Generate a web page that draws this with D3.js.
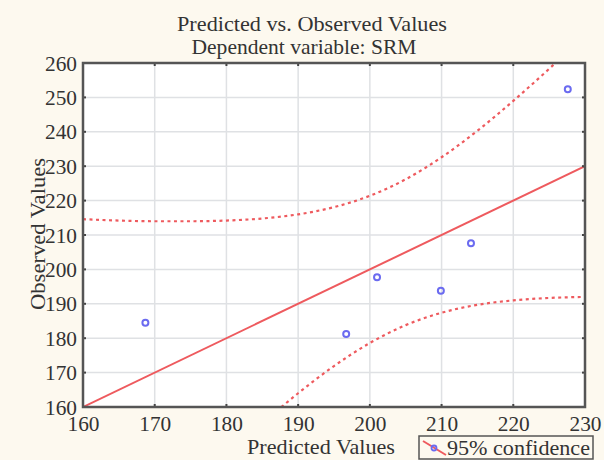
<!DOCTYPE html>
<html><head><meta charset="utf-8">
<script src="https://cdn.jsdelivr.net/npm/d3@7"></script>
<style>body{margin:0;background:#fdf9ef;} svg{display:block;}</style>
</head><body>
<svg id="c" width="604" height="460"></svg>
<script>
const predicted = [168.7, 196.7, 201.0, 209.9, 214.1, 227.6];
const observed  = [184.5, 181.2, 197.7, 193.8, 207.6, 252.4];
const fitX = [160, 230];
const fitY = [160, 230];
const bandX     = [160, 165, 170, 175, 180, 185, 190, 195, 200, 205, 210, 215, 220, 225, 230];
const bandUpper = [214.6, 214.2, 214.0, 214.0, 214.2, 214.8, 216.0, 218.1, 221.4, 226.2, 232.6, 240.3, 249.0, 258.3, 268.0];
const bandLower = [105.4, 115.8, 126.0, 136.0, 145.8, 155.2, 164.0, 171.9, 178.6, 183.8, 187.4, 189.7, 191.0, 191.7, 192.0];
const xTicks = [160, 170, 180, 190, 200, 210, 220, 230];
const yTicks = [160, 170, 180, 190, 200, 210, 220, 230, 240, 250, 260];

const svg = d3.select("#c");
const L = 83, R = 585, T = 63, B = 407;
const x = d3.scaleLinear().domain([160, 230]).range([L, R]);
const y = d3.scaleLinear().domain([160, 260]).range([B, T]);
const font = "'Liberation Serif','Times New Roman',serif";
const red = "#ee5a5e", blue = "#6b6bf0", ink = "#333";

svg.append("rect").attr("x", L).attr("y", T).attr("width", R - L).attr("height", B - T).attr("fill", "#fff");
svg.append("defs").append("clipPath").attr("id", "clip")
  .append("rect").attr("x", L).attr("y", T).attr("width", R - L).attr("height", B - T);

// grid
svg.append("g").selectAll("line").data(xTicks).join("line")
  .attr("x1", d => x(d)).attr("x2", d => x(d)).attr("y1", T).attr("y2", B)
  .attr("stroke", "#dfe1e4").attr("stroke-width", 1.5);
svg.append("g").selectAll("line").data(yTicks).join("line")
  .attr("y1", d => y(d)).attr("y2", d => y(d)).attr("x1", L).attr("x2", R)
  .attr("stroke", "#dfe1e4").attr("stroke-width", 1.5);

const plot = svg.append("g").attr("clip-path", "url(#clip)");
const ln = d3.line().x(d => x(d[0])).y(d => y(d[1])).curve(d3.curveMonotoneX);
plot.append("path").datum(fitX.map((v, i) => [v, fitY[i]]))
  .attr("d", ln).attr("fill", "none").attr("stroke", red).attr("stroke-width", 2);
plot.append("path").datum(bandX.map((v, i) => [v, bandUpper[i]]))
  .attr("d", ln).attr("fill", "none").attr("stroke", red).attr("stroke-width", 2.2).attr("stroke-dasharray", "3,3.5");
plot.append("path").datum(bandX.map((v, i) => [v, bandLower[i]]))
  .attr("d", ln).attr("fill", "none").attr("stroke", red).attr("stroke-width", 2.2).attr("stroke-dasharray", "3,3.5");

plot.append("g").selectAll("circle").data(predicted).join("circle")
  .attr("cx", d => x(d)).attr("cy", (d, i) => y(observed[i])).attr("r", 3)
  .attr("fill", "none").attr("stroke", blue).attr("stroke-width", 2);

// axes
const axB = svg.append("g").attr("transform", `translate(0,${B})`)
  .call(d3.axisBottom(x).tickValues(xTicks).tickSize(0).tickPadding(6).tickFormat(d3.format("d")));
const axL = svg.append("g").attr("transform", `translate(${L},0)`)
  .call(d3.axisLeft(y).tickValues(yTicks).tickSize(0).tickPadding(6).tickFormat(d3.format("d")));
[axB, axL].forEach(a => {
  a.select(".domain").remove();
  a.selectAll("text").attr("font-family", font).attr("font-size", 21).attr("fill", ink)
    .attr("textLength", 32).attr("lengthAdjust", "spacingAndGlyphs");
});
axB.selectAll("text").attr("dy", 18);
axL.selectAll("text").attr("dy", "0.34em");

// inner tick marks
const tk = svg.append("g").attr("stroke", "#444").attr("stroke-width", 2);
xTicks.forEach(v => {
  tk.append("line").attr("x1", x(v)).attr("x2", x(v)).attr("y1", T).attr("y2", T + 3);
  tk.append("line").attr("x1", x(v)).attr("x2", x(v)).attr("y1", B).attr("y2", B - 3);
});
yTicks.forEach(v => {
  tk.append("line").attr("y1", y(v)).attr("y2", y(v)).attr("x1", L).attr("x2", L + 3);
  tk.append("line").attr("y1", y(v)).attr("y2", y(v)).attr("x1", R).attr("x2", R - 3);
});
svg.append("rect").attr("x", L).attr("y", T).attr("width", R - L).attr("height", B - T)
  .attr("fill", "none").attr("stroke", "#555").attr("stroke-width", 2.5);

// titles
function label(txt, xx, yy, len, size, rot) {
  const t = svg.append("text").attr("text-anchor", "middle")
    .attr("font-family", font).attr("font-size", size).attr("fill", ink)
    .attr("textLength", len).attr("lengthAdjust", "spacingAndGlyphs").text(txt);
  if (rot) t.attr("transform", `translate(${xx},${yy}) rotate(-90)`);
  else t.attr("x", xx).attr("y", yy);
  return t;
}
label("Predicted vs. Observed Values", 312, 31, 270, 21);
label("Dependent variable: SRM", 304, 54, 225, 21);
label("Predicted Values", 321, 454, 148, 21);
label("Observed Values", 45, 234, 152, 22, true);

// legend
const lg = svg.append("g");
lg.append("rect").attr("x", 419).attr("y", 436).attr("width", 174).attr("height", 23)
  .attr("fill", "#fdf9ef").attr("stroke", "#555").attr("stroke-width", 1.5);
lg.append("line").attr("x1", 423).attr("y1", 441).attr("x2", 446).attr("y2", 455)
  .attr("stroke", red).attr("stroke-width", 2);
lg.append("circle").attr("cx", 434).attr("cy", 448).attr("r", 2.5)
  .attr("fill", "none").attr("stroke", blue).attr("stroke-width", 1.8);
lg.append("text").attr("x", 447).attr("y", 455).attr("font-family", font).attr("font-size", 22)
  .attr("textLength", 143).attr("lengthAdjust", "spacingAndGlyphs")
  .attr("fill", ink).text("95% confidence");
</script>
</body></html>
